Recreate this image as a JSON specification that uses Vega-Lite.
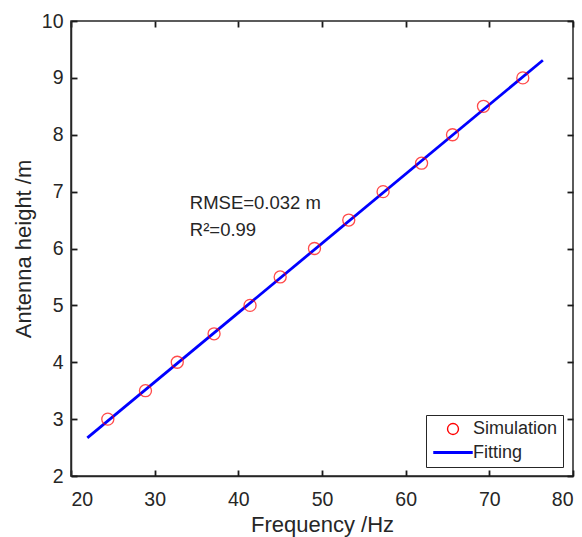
{
  "$schema": "https://vega.github.io/schema/vega-lite/v6.json",
  "width": 502,
  "height": 455,
  "autosize": "none",
  "padding": {"left": 71, "top": 21, "right": 9, "bottom": 61},
  "background": "white",
  "config": {
    "font": "Liberation Sans",
    "view": {"stroke": "#262626", "strokeWidth": 1.5},
    "axis": {
      "labelFont": "Liberation Sans",
      "titleFont": "Liberation Sans",
      "labelColor": "#262626",
      "titleColor": "#262626",
      "labelFontSize": 19.5,
      "titleFontSize": 22,
      "titleFontWeight": "normal",
      "gridColor": "#dedede",
      "gridWidth": 1.2,
      "domainColor": "#262626",
      "domainWidth": 1.5,
      "tickColor": "#1a1a1a",
      "tickWidth": 1.8,
      "ticks": true
    }
  },
  "resolve": {"axis": {"x": "independent", "y": "independent"}},
  "datasets": {
    "sim": [
      {"freq": 24.4, "height": 3.0, "series": "Simulation"},
      {"freq": 28.9, "height": 3.5, "series": "Simulation"},
      {"freq": 32.7, "height": 4.0, "series": "Simulation"},
      {"freq": 37.1, "height": 4.5, "series": "Simulation"},
      {"freq": 41.4, "height": 5.0, "series": "Simulation"},
      {"freq": 45.0, "height": 5.5, "series": "Simulation"},
      {"freq": 49.1, "height": 6.0, "series": "Simulation"},
      {"freq": 53.2, "height": 6.5, "series": "Simulation"},
      {"freq": 57.3, "height": 7.0, "series": "Simulation"},
      {"freq": 61.9, "height": 7.5, "series": "Simulation"},
      {"freq": 65.6, "height": 8.0, "series": "Simulation"},
      {"freq": 69.3, "height": 8.5, "series": "Simulation"},
      {"freq": 74.0, "height": 9.0, "series": "Simulation"}
    ],
    "fit": [
      {"freq": 21.95, "height": 2.67, "series": "Fitting"},
      {"freq": 76.4, "height": 9.31, "series": "Fitting"}
    ],
    "notes": [
      {"freq": 34.2, "height": 6.8, "label": "RMSE=0.032 m"},
      {"freq": 34.2, "height": 6.33, "label": "R²=0.99"}
    ]
  },
  "layer": [
    {
      "data": {"name": "fit"},
      "mark": {"type": "line", "opacity": 0},
      "encoding": {
        "x": {
          "field": "freq", "type": "quantitative",
          "scale": {"domain": [20, 80], "nice": false},
          "axis": {"orient": "top", "values": [20, 30, 40, 50, 60, 70, 80], "labels": false, "grid": false, "domain": false, "title": null, "ticks": true, "tickSize": -6}
        },
        "y": {
          "field": "height", "type": "quantitative",
          "scale": {"domain": [2, 10], "nice": false},
          "axis": {"orient": "right", "values": [2, 3, 4, 5, 6, 7, 8, 9, 10], "labels": false, "grid": false, "domain": false, "title": null, "ticks": true, "tickSize": -6}
        }
      }
    },
    {
      "data": {"name": "fit"},
      "mark": {"type": "line", "strokeWidth": 2.8, "clip": false},
      "encoding": {
        "x": {
          "field": "freq", "type": "quantitative",
          "scale": {"domain": [20, 80], "nice": false},
          "axis": {"title": "Frequency /Hz", "values": [20, 30, 40, 50, 60, 70, 80], "format": "d", "ticks": true, "tickSize": -6, "labelPadding": 20, "titlePadding": 6}
        },
        "y": {
          "field": "height", "type": "quantitative",
          "scale": {"domain": [2, 10], "nice": false},
          "axis": {"title": "Antenna height /m", "values": [2, 3, 4, 5, 6, 7, 8, 9, 10], "format": "d", "ticks": true, "tickSize": -6, "labelPadding": 14, "titlePadding": 6}
        },
        "color": {
          "field": "series", "type": "nominal",
          "scale": {"domain": ["Simulation", "Fitting"], "range": ["#ff0000", "#0000ff"]},
          "legend": {
            "title": null,
            "orient": "none",
            "legendX": 355,
            "legendY": 394,
            "fillColor": "white",
            "strokeColor": "#262626",
            "padding": 5,
            "labelFontSize": 18,
            "labelFont": "Liberation Sans",
            "labelColor": "#262626",
            "symbolSize": 120,
            "symbolStrokeWidth": 1.4,
            "symbolOffset": 13,
            "labelOffset": 11,
            "rowPadding": 5.5,
            "encode": {
              "symbols": {
                "update": {
                  "shape": {"signal": "datum.value === 'Fitting' ? 'stroke' : 'circle'"},
                  "size": {"signal": "datum.value === 'Fitting' ? 1560 : 120"},
                  "strokeWidth": {"signal": "datum.value === 'Fitting' ? 2.8 : 1.4"},
                  "fill": {"value": "transparent"}
                }
              }
            }
          }
        }
      }
    },
    {
      "data": {"name": "sim"},
      "mark": {"type": "point", "filled": false, "strokeWidth": 1.3, "size": 145, "shape": "circle"},
      "encoding": {
        "x": {"field": "freq", "type": "quantitative", "axis": null},
        "y": {"field": "height", "type": "quantitative", "axis": null},
        "color": {"field": "series", "type": "nominal"}
      }
    },
    {
      "data": {"name": "notes"},
      "mark": {"type": "text", "align": "left", "baseline": "middle", "fontSize": 18.5, "font": "Liberation Sans", "color": "#262626"},
      "encoding": {
        "x": {"field": "freq", "type": "quantitative", "axis": null},
        "y": {"field": "height", "type": "quantitative", "axis": null},
        "text": {"field": "label"}
      }
    }
  ]
}
